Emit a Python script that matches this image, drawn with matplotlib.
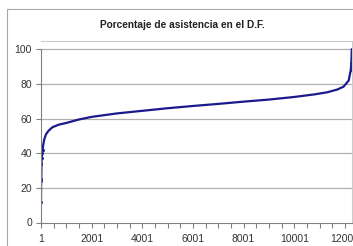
import matplotlib
matplotlib.use("Agg")
import matplotlib.pyplot as plt
from matplotlib.patches import Rectangle

title = "Porcentaje de asistencia en el D.F."
# rank position (sorted schools) and attendance percentage
ranks = [1, 5, 12, 20, 30, 45, 65, 90, 130, 200, 300, 450, 700, 1000, 1500, 2000,
         3000, 4000, 5000, 6000, 7000, 8000, 9000, 10000, 10800, 11300, 11700,
         11950, 12150, 12230, 12255, 12265, 12270]
values = [12, 24, 25, 34, 37, 40, 42, 45, 48, 51, 53, 55, 56.5, 57.5, 59.5, 61,
          63, 64.5, 66, 67.3, 68.5, 69.8, 71, 72.5, 74, 75.2, 76.8,
          78.5, 82, 88, 92, 97, 100]
xtick_vals = [1, 2001, 4001, 6001, 8001, 10001, 12001]
ytick_vals = [0, 20, 40, 60, 80, 100]

W, H = 353, 246
fig = plt.figure(figsize=(W / 100, H / 100), dpi=100)
plt.rcParams['font.family'] = ['Liberation Sans', 'DejaVu Sans']

# outer chart border
fig.patches.append(Rectangle((7 / W, -0.5), 2, 1.5 - 9 / H, transform=fig.transFigure,
                             fill=False, edgecolor='#a8a8a8', linewidth=0.8))

ax = fig.add_axes([41 / W, 1 - 222.5 / H, (352 - 41) / W, (222.5 - 40.7) / H])
n = len(ranks)
marked = [0, 1, 2, 3, 4, 5, 6, n - 4, n - 3, n - 2, n - 1]
ax.plot(ranks, values, color='#1a1a8c', linewidth=1.6, marker='o', markersize=2.2,
        markeredgewidth=0, markevery=marked, solid_capstyle='round',
        solid_joinstyle='round')
ax.set_xlim(1, 12280)
ax.set_ylim(0, 105)
ax.set_yticks(ytick_vals)
ax.set_yticklabels([str(v) for v in ytick_vals])
ax.set_xticks(xtick_vals)
ax.set_xticklabels([str(v) for v in xtick_vals])
ax.set_xticks(list(range(1, 12281, 500)), minor=True)
for y in ytick_vals[1:]:
    ax.axhline(y, color='#b0b0b0', linewidth=0.9, zorder=0)
for s in ['top', 'right']:
    ax.spines[s].set_color('#cccccc')
    ax.spines[s].set_linewidth(0.8)
ax.spines['left'].set_color('#808080')
ax.spines['left'].set_bounds(0, 100)
ax.spines['bottom'].set_color('#808080')
ax.tick_params(axis='both', which='both', colors='#808080', labelcolor='#333333',
               labelsize=7.5, length=3.5, width=0.8)
ax.tick_params(axis='x', which='major', pad=5)
ax.tick_params(axis='y', pad=3)

fig.text(182.5 / W, 1 - 24.5 / H, title, ha='center', va='center', fontsize=7.3,
         fontweight='bold', color='#222222')

fig.savefig("out.png", dpi=100)
